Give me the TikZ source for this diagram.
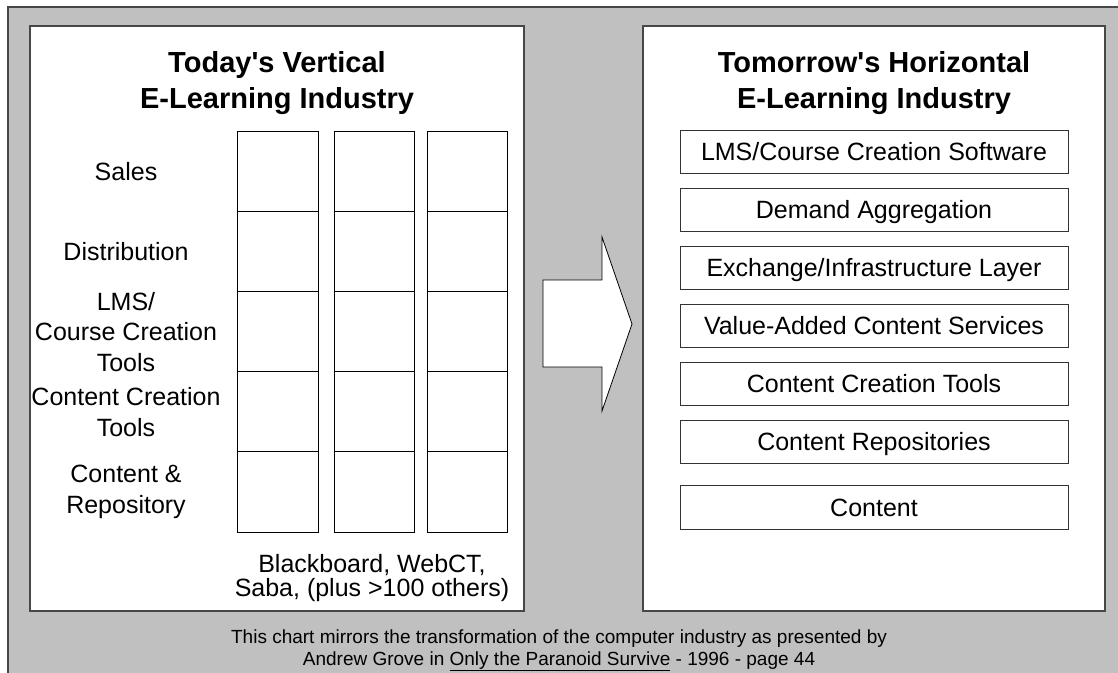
\documentclass[tikz,border=0pt]{standalone}
\usepackage{fontspec}
\setmainfont{Liberation Sans}
\newfontfamily\plainsans{Liberation Sans}
\newcommand{\fsz}[1]{\fontsize{#1}{1.22\dimexpr#1pt\relax}\selectfont}
\begin{document}
\begin{tikzpicture}[x=1pt,y=-1pt,
  panel/.style={draw=black!72, line width=1.4pt, fill=white},
  cell/.style={draw=black, line width=0.9pt, inner sep=0pt, outer sep=0pt},
  layer/.style={draw=black!80, line width=1pt, fill=white, inner sep=0pt, outer sep=0pt,
     minimum width=388pt, text height=18pt, text depth=0pt, font=\fsz{25}},
  ttl/.style={anchor=base, font=\plainsans\bfseries\fsz{29}},
  lbl/.style={align=center, font=\fontsize{25}{30.5}\selectfont},
  foot/.style={anchor=base, font=\fsz{19}}]
\useasboundingbox (0,0) rectangle (1118,672);
\fill[white] (0,0) rectangle (1118,672);
\fill[fill={rgb,255:red,192;green,192;blue,192}] (8,7) rectangle (1120,674);
\draw[black!72, line width=1.4pt] (8,674) -- (8,7) -- (1120,7);
% panels
\draw[panel] (30,26) rectangle (524,611);
\draw[panel] (643,26) rectangle (1105,611);
% titles
\node[ttl] (t1a) at (277,72) {Today's Vertical};
\node[ttl] (t1b) at (277,108) {E-Learning Industry};
\node[ttl] (t2a) at (874,72) {Tomorrow's Horizontal};
\node[ttl] (t2b) at (874,108) {E-Learning Industry};
% grid cells
\foreach \cx/\w [count=\j] in {277.5/81, 374/80, 467/80}{
  \foreach \r in {0,...,4}{
    \node[cell, minimum width=\w pt, minimum height=80.2pt] (c\j\r) at (\cx, 131+80.2*\r+40.1) {};
  }
}
% row labels
\node[lbl] (l0) at (126,172) {Sales};
\node[lbl] (l1) at (126,252) {Distribution};
\node[lbl] (l2) at (126,332) {LMS/\\Course Creation\\Tools};
\node[lbl] (l3) at (126,412) {Content Creation\\Tools};
\node[lbl] (l4) at (126,492) {Content \&\\Repository};
\node[anchor=base, font=\fsz{25}] (v1) at (372,572) {Blackboard, WebCT,};
\node[anchor=base, font=\fsz{25}] (v2) at (372,596) {Saba, (plus >100 others)};
% arrow
\draw[fill=white, draw=black, line width=0.8pt, line join=miter]
  (543,280) -- (602,280) -- (602,237) -- (632,324) -- (602,411) -- (602,367) -- (543,367) -- cycle;
% layers
\node[layer, minimum height=43pt] (h1) at (874,151.5) {LMS/Course Creation Software};
\node[layer, minimum height=43pt] (h2) at (874,209.5) {Demand Aggregation};
\node[layer, minimum height=43pt] (h3) at (874,267.5) {Exchange/Infrastructure Layer};
\node[layer, minimum height=43pt] (h4) at (874,325.5) {Value-Added Content Services};
\node[layer, minimum height=43pt] (h5) at (874,383.5) {Content Creation Tools};
\node[layer, minimum height=43pt] (h6) at (874,441.5) {Content Repositories};
\node[layer, minimum height=44pt] (h7) at (874,507) {Content};
% footer
\node[foot] (f1) at (559,643) {This chart mirrors the transformation of the computer industry as presented by};
\node[foot] (f2) at (559,665) {Andrew Grove in \underline{Only the Paranoid Survive} - 1996 - page 44};
\end{tikzpicture}
\end{document}
